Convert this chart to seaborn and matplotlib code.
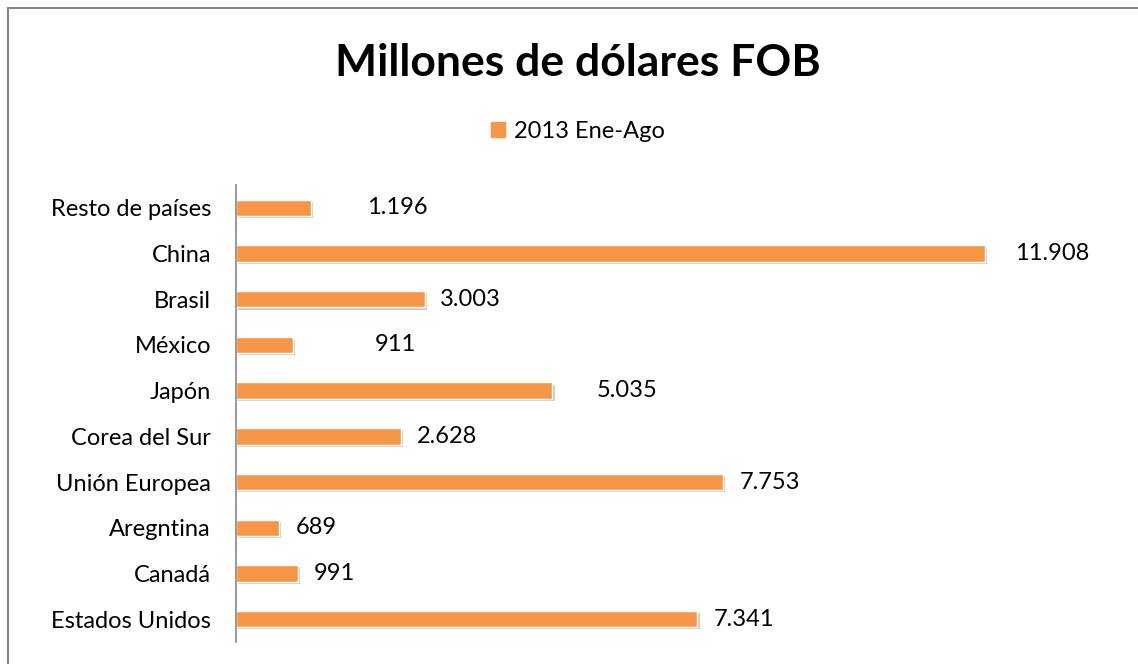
import numpy as np
import matplotlib.pyplot as plt
import matplotlib.patheffects as pe
from matplotlib.patches import Rectangle
import pandas as pd
import seaborn as sns

paises = ["Resto de países", "China", "Brasil", "México", "Japón",
          "Corea del Sur", "Unión Europea", "Aregntina", "Canadá", "Estados Unidos"]
valores = [1196, 11908, 3003, 911, 5035, 2628, 7753, 689, 991, 7341]
etiquetas = ["1.196", "11.908", "3.003", "911", "5.035", "2.628", "7.753", "689", "991", "7.341"]
# distance of each value label from the end of its bar (points)
desplaz = [40, 22, 11, 59, 32, 11, 12, 12, 11, 12]
serie = "2013 Ene-Ago"

df = pd.DataFrame({"pais": paises, "valor": valores, "serie": serie})

sns.set_style("white")
plt.rcParams["font.family"] = ["Lato", "DejaVu Sans"]
plt.rcParams["text.color"] = "black"

fig = plt.figure(figsize=(11.38, 6.64), dpi=100)
ax = fig.add_axes([236 / 1138, 1 - 642 / 664, (1116 - 236) / 1138, (642 - 185) / 664])

sns.barplot(data=df, y="pais", x="valor", hue="serie", orient="h",
            palette=["#F79646"], saturation=1, width=0.36, ax=ax, legend=False,
            edgecolor="white", linewidth=1)

for bar in ax.patches:
    bar.set_path_effects([pe.SimplePatchShadow(offset=(1.5, -1.5), alpha=0.25), pe.Normal()])

for bar, txt, dx in zip(ax.patches, etiquetas, desplaz):
    ax.annotate(txt, (bar.get_width(), bar.get_y() + bar.get_height() / 2),
                xytext=(dx, 0), textcoords="offset points",
                va="center", ha="left", fontsize=17, color="black")

ax.set_xlim(0, 14000)
ax.set_ylim(9.5, -0.5)
ax.set_xlabel("")
ax.set_ylabel("")
ax.set_xticks([])
ax.tick_params(axis="y", length=0, pad=18, labelsize=17, labelcolor="black")
for s in ["top", "right", "bottom"]:
    ax.spines[s].set_visible(False)
ax.spines["left"].set_color("#868686")
ax.spines["left"].set_linewidth(1.2)

fig.text(0.508, 0.905, "Millones de dólares FOB", ha="center", va="center",
         fontsize=32, fontweight="bold", color="black")

handle = Rectangle((0, 0), 1, 1, color="#F79646")
fig.legend([handle], [serie], loc="center", bbox_to_anchor=(0.508, 0.802),
           frameon=False, fontsize=17, handlelength=0.6, handleheight=0.6,
           handletextpad=0.4, labelcolor="black")

fig.patches.append(Rectangle((8 / 1138, -0.05), 1.1, 1 - 8 / 664 + 0.05,
                             transform=fig.transFigure, fill=False,
                             edgecolor="#868686", linewidth=1.5))

fig.savefig("out.png", dpi=100)
